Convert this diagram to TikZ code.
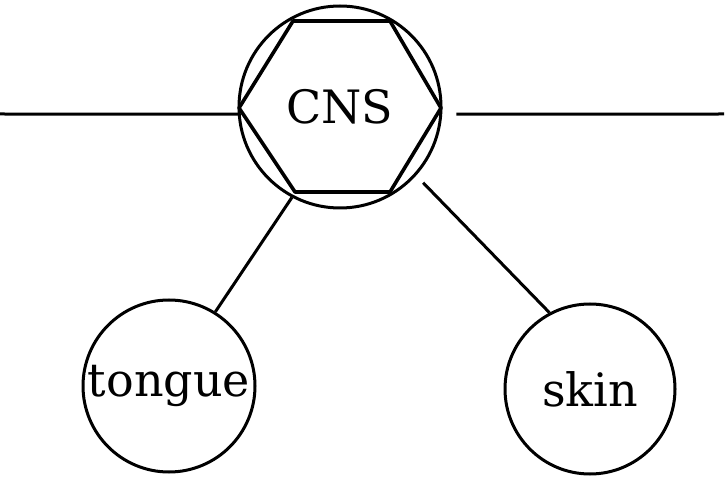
\documentclass[tikz,border=0pt]{standalone}
\usepackage{fontspec}
\setmainfont{DejaVu Serif}
\tikzset{
  organ/.style={circle, draw, line width=3pt, inner sep=0pt,
    font=\fontsize{46}{52}\selectfont},
  link/.style={line width=3pt}
}
\begin{document}
\begin{tikzpicture}[x=1pt,y=-1pt]
            \useasboundingbox (0,0) rectangle (726,478);
            \node[organ, minimum size=202pt] (cns) at (340,107) {CNS};
            \node[organ, minimum size=172pt] (tongue) at (169,386) {tongue};
            \node[organ, minimum size=170pt] (skin) at (590,389) {skin};
            % hexagon inside the CNS circle
            \draw[link, line width=3.6pt, line join=round] (293,21) -- (390,21) -- (441,108)
                -- (390,192) -- (295,192) -- (239,108) -- cycle;
            \coordinate (inL) at (0,114);
            \coordinate (outR) at (724,114);
            \draw[link] (inL) -- (cns.184);
            \draw[link, shorten <=14pt] (cns.-4) -- (outR);
            \draw[link] (cns.-118) -- (tongue.58);
            \draw[link, shorten <=10pt] (cns.-42) -- (skin.118);
        \end{tikzpicture}
\end{document}
